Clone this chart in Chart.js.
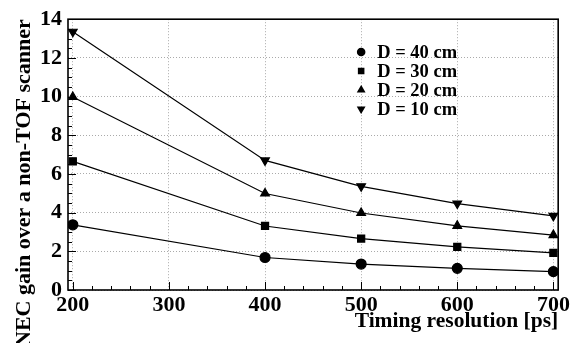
<!DOCTYPE html>
<html>
<head>
<meta charset="utf-8">
<script src="https://cdn.jsdelivr.net/npm/chart.js@4/dist/chart.umd.min.js"></script>
<style>
  html, body { margin: 0; padding: 0; background: #fff; }
  #wrap { width: 572px; height: 343px; }
</style>
</head>
<body>
<div id="wrap"><canvas id="necChart" width="572" height="343"></canvas></div>
<script>
// timing resolution [ps]
const timing = [200, 400, 500, 600, 700];
// NEC gain per object diameter
const gainD40 = [3.37, 1.68, 1.34, 1.12, 0.95];
const gainD30 = [6.65, 3.31, 2.66, 2.23, 1.92];
const gainD20 = [9.98, 4.99, 3.98, 3.32, 2.84];
const gainD10 = [13.35, 6.7, 5.36, 4.47, 3.83];
const seriesLabels = ["D = 40 cm", "D = 30 cm", "D = 20 cm", "D = 10 cm"];
const xTicks = [200, 300, 400, 500, 600, 700];
const yTicks = [0, 2, 4, 6, 8, 10, 12, 14];

const serif = "'Liberation Serif', 'DejaVu Serif', serif";

function pts(vals) {
  return timing.map((t, i) => ({ x: t, y: vals[i] }));
}

function makeSet(label, vals, style, rot, r) {
  return {
    label: label,
    data: pts(vals),
    borderColor: "#000",
    backgroundColor: "#000",
    borderWidth: 1.2,
    pointStyle: style,
    rotation: rot,
    pointRadius: r,
    pointHoverRadius: r,
    tension: 0,
  };
}

// ROOT style frame, inner ticks and legend inside the pad
const framePlugin = {
  id: "frame",
  afterDraw(chart) {
    const ctx = chart.ctx;
    const a = chart.chartArea;
    const xs = chart.scales.x, ys = chart.scales.y;
    ctx.save();
    ctx.strokeStyle = "#000";
    ctx.lineWidth = 1;
    ctx.beginPath();
    for (let v = 200; v <= 700; v += 20) {
      const px = Math.round(xs.getPixelForValue(v)) + 0.5;
      const len = v % 100 === 0 ? 8 : 4;
      ctx.moveTo(px, a.bottom);
      ctx.lineTo(px, a.bottom - len);
    }
    for (let v = 0; v <= 14; v += 0.5) {
      const py = Math.round(ys.getPixelForValue(v)) + 0.5;
      const len = v % 2 === 0 ? 8 : 4;
      ctx.moveTo(a.left, py);
      ctx.lineTo(a.left + len, py);
    }
    ctx.stroke();
    ctx.lineWidth = 1.6;
    ctx.strokeRect(a.left, a.top, a.right - a.left, a.bottom - a.top);

    // legend
    const lx = xs.getPixelForValue(500);
    ctx.font = "bold 18.5px " + serif;
    ctx.fillStyle = "#000";
    ctx.textBaseline = "middle";
    ctx.textAlign = "left";
    chart.data.datasets.forEach((ds, i) => {
      const ly = 52 + i * 19;
      Chart.helpers.drawPoint(ctx, {
        pointStyle: ds.pointStyle, rotation: ds.rotation, radius: 3.5, borderWidth: 1
      }, lx, ly);
      ctx.fillStyle = "#000";
      ctx.fillText(ds.label, lx + 16, ly + 1);
    });
    ctx.restore();
  }
};

const ctx = document.getElementById("necChart").getContext("2d");
new Chart(ctx, {
  type: "line",
  data: {
    datasets: [
      makeSet(seriesLabels[0], gainD40, "circle", 0, 5),
      makeSet(seriesLabels[1], gainD30, "rect", 0, 5),
      makeSet(seriesLabels[2], gainD20, "triangle", 0, 5),
      makeSet(seriesLabels[3], gainD10, "triangle", 180, 5),
    ],
  },
  options: {
    responsive: false,
    animation: false,
    layout: { padding: { top: 19, right: 12, left: 0, bottom: 0 } },
    plugins: { legend: { display: false }, tooltip: { enabled: false } },
    scales: {
      x: {
        type: "linear",
        min: 195,
        max: 705,
        afterBuildTicks(scale) { scale.ticks = xTicks.map(v => ({ value: v })); },
        afterFit(scale) { scale.height = 53; },
        grid: { color: "#aaa", lineWidth: 1, drawTicks: false },
        border: { display: false, dash: [1, 2] },
        ticks: { color: "#000", padding: 2, maxRotation: 0, font: { family: serif, size: 22, weight: "bold" } },
        title: {
          display: true, text: "Timing resolution [ps]", align: "end", color: "#000",
          font: { family: serif, size: 21.5, weight: "bold" }, padding: { top: 0, bottom: 9 }
        },
      },
      y: {
        type: "linear",
        min: 0,
        max: 14,
        afterBuildTicks(scale) { scale.ticks = yTicks.map(v => ({ value: v })); },
        afterFit(scale) { scale.width = 68; },
        grid: { color: "#aaa", lineWidth: 1, drawTicks: false },
        border: { display: false, dash: [1, 2] },
        ticks: { color: "#000", padding: 6, font: { family: serif, size: 22, weight: "bold" } },
        title: {
          display: true, text: "NEC gain over a non-TOF scanner", align: "end", color: "#000",
          font: { family: serif, size: 22, weight: "bold" }, padding: { top: 11, bottom: 0 }
        },
      },
    },
  },
  plugins: [framePlugin],
});
</script>
</body>
</html>
